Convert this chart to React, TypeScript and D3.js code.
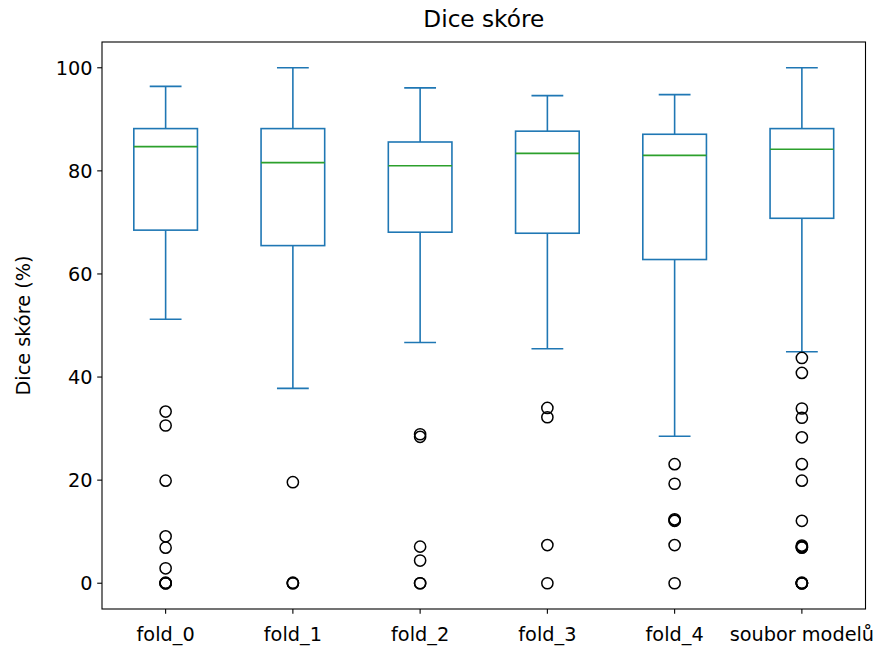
import { useEffect } from 'react';
import * as d3 from 'd3';

const categories = ['fold_0', 'fold_1', 'fold_2', 'fold_3', 'fold_4', 'soubor modelů'];
const whiskerHigh = [96.4, 100, 96.1, 94.6, 94.8, 100];
const q3s = [88.2, 88.2, 85.6, 87.7, 87.1, 88.2];
const medians = [84.7, 81.6, 81.0, 83.4, 83.0, 84.2];
const q1s = [68.5, 65.5, 68.1, 67.9, 62.8, 70.8];
const whiskerLow = [51.2, 37.8, 46.7, 45.5, 28.5, 44.9];
const outliers = [
  [33.3, 30.6, 19.9, 9.1, 6.9, 2.9, 0, 0, 0, 0.1],
  [19.6, 0, 0, 0.1],
  [28.9, 28.4, 7.1, 4.4, 0, 0],
  [34.0, 32.2, 7.4, 0],
  [23.1, 19.3, 12.2, 12.4, 12.1, 7.4, 0],
  [43.7, 40.8, 33.9, 32.1, 28.3, 23.1, 19.9, 12.1, 7.1, 6.9, 7.3, 7.0, 0, 0, 0.1, 0, 0],
];
const yTicks = [0, 20, 40, 60, 80, 100];

const W = 882;
const H = 648;
const left = 102;
const right = 865.5;
const top = 42;
const bottom = 609;
const blue = '#1f77b4';
const green = '#2ca02c';
const font = "'DejaVu Sans', sans-serif";
const lw = 1.6;

const App = () => {
  useEffect(() => {
    document.body.style.margin = '0';
  }, []);

  const x = d3.scaleLinear().domain([0.5, categories.length + 0.5]).range([left, right]);
  const y = d3.scaleLinear().domain([-5, 105]).range([bottom, top]);
  const boxW = (x(1) - x(0)) * 0.5;
  const capW = boxW / 2;

  return (
    <svg width={W} height={H} style={{ display: 'block', fontFamily: font }}>
      <rect width={W} height={H} fill="white" />
      <text x={(left + right) / 2} y={27} textAnchor="middle" fontSize={23.2} fill="#000">
        Dice skóre
      </text>
      <text
        transform={`translate(30, ${(top + bottom) / 2}) rotate(-90)`}
        textAnchor="middle"
        fontSize={19.3}
        fill="#000"
      >
        Dice skóre (%)
      </text>

      {yTicks.map((t) => (
        <g key={t}>
          <line x1={left - 4.8} x2={left} y1={y(t)} y2={y(t)} stroke="#000" strokeWidth={1.1} />
          <text x={left - 9.5} y={y(t)} dy="0.36em" textAnchor="end" fontSize={19.3} fill="#000">
            {t}
          </text>
        </g>
      ))}

      {categories.map((c, i) => {
        const cx = x(i + 1);
        return (
          <g key={c}>
            <line x1={cx} x2={cx} y1={bottom} y2={bottom + 4.8} stroke="#000" strokeWidth={1.1} />
            <text x={cx} y={641} textAnchor="middle" fontSize={19.3} fill="#000">
              {c}
            </text>
            <line x1={cx} x2={cx} y1={y(q3s[i])} y2={y(whiskerHigh[i])} stroke={blue} strokeWidth={lw} />
            <line x1={cx} x2={cx} y1={y(q1s[i])} y2={y(whiskerLow[i])} stroke={blue} strokeWidth={lw} />
            <line x1={cx - capW / 2} x2={cx + capW / 2} y1={y(whiskerHigh[i])} y2={y(whiskerHigh[i])} stroke={blue} strokeWidth={lw} />
            <line x1={cx - capW / 2} x2={cx + capW / 2} y1={y(whiskerLow[i])} y2={y(whiskerLow[i])} stroke={blue} strokeWidth={lw} />
            <rect
              x={cx - boxW / 2}
              y={y(q3s[i])}
              width={boxW}
              height={y(q1s[i]) - y(q3s[i])}
              fill="none"
              stroke={blue}
              strokeWidth={lw}
            />
            <line x1={cx - boxW / 2} x2={cx + boxW / 2} y1={y(medians[i])} y2={y(medians[i])} stroke={green} strokeWidth={lw} />
            {outliers[i].map((v, j) => (
              <circle key={j} cx={cx} cy={y(v)} r={5.6} fill="none" stroke="#000" strokeWidth={1.5} />
            ))}
          </g>
        );
      })}

      <rect x={left} y={top} width={right - left} height={bottom - top} fill="none" stroke="#000" strokeWidth={1.1} />
    </svg>
  );
};

export default App;
